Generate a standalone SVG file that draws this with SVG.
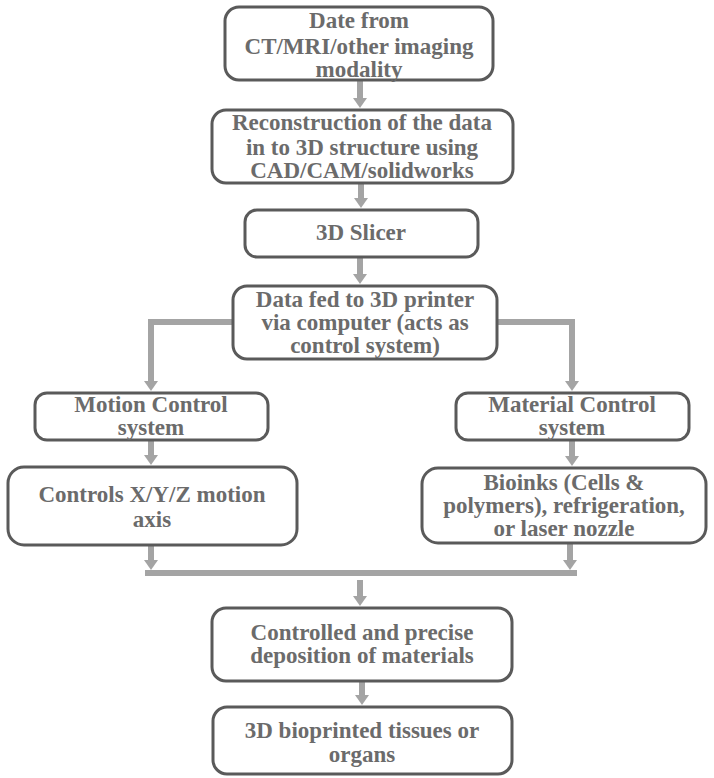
<svg xmlns="http://www.w3.org/2000/svg" width="714" height="778" viewBox="0 0 714 778">
<defs>
<marker id="ah" markerUnits="userSpaceOnUse" markerWidth="10" markerHeight="14" refX="0" refY="7" orient="auto" viewBox="0 0 10 14">
<path d="M0,0 L10,7 L0,14 Z" fill="#a4a4a4"/>
</marker>
<style>
.box{fill:#ffffff;stroke:#5a5a5a;stroke-width:3}
.t{font-family:'Liberation Serif',serif;font-weight:bold;font-size:23px;fill:#6b6b6b;text-anchor:middle}
.c{stroke:#a4a4a4;stroke-width:6;fill:none}
.ca{stroke:#a4a4a4;stroke-width:6;fill:none;marker-end:url(#ah)}
</style>
</defs>
<rect width="714" height="778" fill="#ffffff"/>
<g id="connectors">
<line class="ca" x1="360" y1="80" x2="360" y2="98"/>
<line class="ca" x1="361" y1="183" x2="361" y2="198"/>
<line class="ca" x1="360" y1="257" x2="360" y2="274"/>
<polyline class="ca" points="233,322 151,322 151,381"/>
<polyline class="ca" points="497,322 572,322 572,381"/>
<line class="ca" x1="151" y1="440" x2="151" y2="455"/>
<line class="ca" x1="572" y1="440" x2="572" y2="456"/>
<line class="ca" x1="151" y1="545" x2="151" y2="560"/>
<line class="ca" x1="570" y1="543" x2="570" y2="560"/>
<line class="c" x1="145" y1="573" x2="577" y2="573"/>
<line class="ca" x1="360" y1="580" x2="360" y2="596"/>
<line class="ca" x1="362" y1="681" x2="362" y2="695"/>
</g>
<g id="n1"><rect class="box" x="225" y="7" width="268" height="73" rx="14"/>
<text class="t" x="359" y="28">Date from</text><text class="t" x="359" y="54">CT/MRI/other imaging</text><text class="t" x="359" y="77">modality</text></g>
<g id="n2"><rect class="box" x="212" y="110" width="301" height="73" rx="14"/>
<text class="t" x="362" y="130">Reconstruction of the data</text><text class="t" x="362" y="155">in to 3D structure using</text><text class="t" x="362" y="178">CAD/CAM/solidworks</text></g>
<g id="n3"><rect class="box" x="245" y="210" width="233" height="47" rx="12"/>
<text class="t" x="361" y="240">3D Slicer</text></g>
<g id="n4"><rect class="box" x="233" y="286" width="264" height="73" rx="14"/>
<text class="t" x="365" y="307">Data fed to 3D printer</text><text class="t" x="365" y="330">via computer (acts as</text><text class="t" x="365" y="353">control system)</text></g>
<g id="n5"><rect class="box" x="35" y="393" width="233" height="47" rx="12"/>
<text class="t" x="151" y="412">Motion Control</text><text class="t" x="151" y="435">system</text></g>
<g id="n6"><rect class="box" x="456" y="393" width="233" height="47" rx="12"/>
<text class="t" x="572" y="412">Material Control</text><text class="t" x="572" y="435">system</text></g>
<g id="n7"><rect class="box" x="8" y="467" width="289" height="78" rx="16"/>
<text class="t" x="152" y="502">Controls X/Y/Z motion</text><text class="t" x="152" y="527">axis</text></g>
<g id="n8"><rect class="box" x="422" y="468" width="284" height="75" rx="16"/>
<text class="t" x="564" y="490">Bioinks (Cells &amp;</text><text class="t" x="564" y="513">polymers), refrigeration,</text><text class="t" x="564" y="536">or laser nozzle</text></g>
<g id="n9"><rect class="box" x="212" y="608" width="300" height="73" rx="14"/>
<text class="t" x="362" y="640">Controlled and precise</text><text class="t" x="362" y="663">deposition of materials</text></g>
<g id="n10"><rect class="box" x="213" y="707" width="299" height="67" rx="14"/>
<text class="t" x="362" y="738">3D bioprinted tissues or</text><text class="t" x="362" y="762">organs</text></g>
</svg>
